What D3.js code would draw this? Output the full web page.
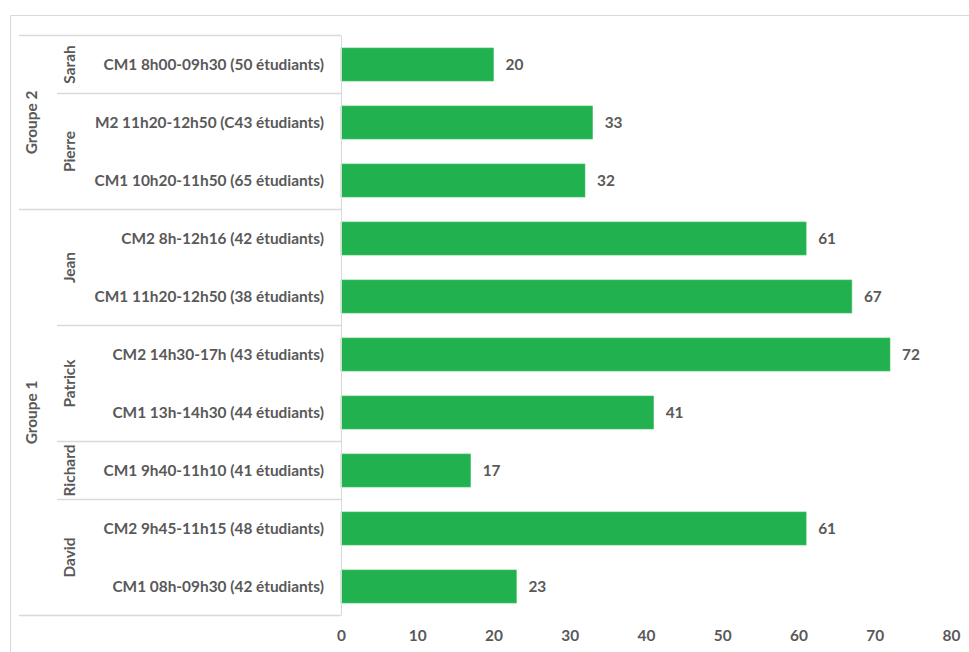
<!DOCTYPE html>
<html><head><meta charset="utf-8">
<script src="https://cdn.jsdelivr.net/npm/d3@7"></script>
<style>body{margin:0;background:#fff}svg{display:block}text{font-family:Lato,"Open Sans",sans-serif;font-weight:bold;fill:#595959}</style>
</head><body>
<script>
const groups = ["Groupe 2","Groupe 2","Groupe 2","Groupe 1","Groupe 1","Groupe 1","Groupe 1","Groupe 1","Groupe 1","Groupe 1"];
const persons = ["Sarah","Pierre","Pierre","Jean","Jean","Patrick","Patrick","Richard","David","David"];
const categories = ["CM1 8h00-09h30 (50 étudiants)","M2 11h20-12h50 (C43 étudiants)","CM1 10h20-11h50 (65 étudiants)","CM2 8h-12h16 (42 étudiants)","CM1 11h20-12h50 (38 étudiants)","CM2 14h30-17h (43 étudiants)","CM1 13h-14h30 (44 étudiants)","CM1 9h40-11h10 (41 étudiants)","CM2 9h45-11h15 (48 étudiants)","CM1 08h-09h30 (42 étudiants)"];
const values = [20,33,32,61,67,72,41,17,61,23];
const ticks = [0,10,20,30,40,50,60,70,80];

(function(){
const W=969,H=652;
const svg=d3.select("body").append("svg").attr("width",W).attr("height",H);
const grid="#d9d9d9";
svg.append("path").attr("d","M10.5,652V15.5H969").attr("fill","none").attr("stroke",grid);

const x=d3.scaleLinear().domain([0,80]).range([341,951]);
const ids=categories.map((c,i)=>i);
const y=d3.scaleBand().domain(ids).range([35.5,615.5]).paddingInner(0.43).paddingOuter(0.215);
const step=y.step();
const y0=35.5, axisX=341;
const fs=15.4;

svg.selectAll("rect.bar").data(values).join("rect").attr("class","bar")
 .attr("x",x(0)).attr("y",(d,i)=>y(i)).attr("width",d=>x(d)-x(0)).attr("height",y.bandwidth())
 .attr("fill","#21b14f").attr("stroke","#4cc56f").attr("stroke-width",0.6);
svg.selectAll("text.val").data(values).join("text").attr("class","val")
 .attr("x",d=>x(d)+12).attr("y",(d,i)=>y(i)+y.bandwidth()/2).attr("dy","0.35em")
 .attr("font-size",fs).text(d=>d);

const g=svg.append("g").attr("stroke",grid).attr("fill","none");
g.append("line").attr("x1",axisX+0.5).attr("x2",axisX+0.5).attr("y1",y0).attr("y2",y0+step*10);
for(let i=0;i<=10;i++){
  const yy=y0+step*i;
  let x1=null;
  if(i===0||i===10||groups[i]!==groups[i-1]) x1=19;
  else if(persons[i]!==persons[i-1]) x1=57;
  if(x1!==null) g.append("line").attr("x1",x1).attr("x2",axisX).attr("y1",yy).attr("y2",yy).attr("stroke-width",1.5);
}
svg.selectAll("text.cat").data(categories).join("text").attr("class","cat")
 .attr("x",324).attr("y",(d,i)=>y0+step*(i+0.5)).attr("dy","0.35em").attr("text-anchor","end")
 .attr("font-size",fs).text(d=>d);
function spans(arr,isP){const r=[];arr.forEach((v,i)=>{if(i>0&&arr[i-1]===v&&(!isP||groups[i-1]===groups[i]))r[r.length-1].n++;else r.push({v,s:i,n:1});});return r;}
spans(persons,true).forEach(s=>{
  const cy=y0+step*(s.s+s.n/2);
  svg.append("text").attr("transform",`translate(70,${cy}) rotate(-90)`).attr("text-anchor","middle").attr("dy","0.35em").attr("font-size",fs).text(s.v);
});
spans(groups,false).forEach(s=>{
  const cy=y0+step*(s.s+s.n/2);
  svg.append("text").attr("transform",`translate(32,${cy}) rotate(-90)`).attr("text-anchor","middle").attr("dy","0.35em").attr("font-size",fs).text(s.v);
});
const ax=svg.append("g").attr("transform","translate(0,636)").call(d3.axisBottom(x).tickValues(ticks).tickSize(0).tickPadding(0));
ax.select(".domain").remove();
ax.selectAll("text").attr("font-size",fs).attr("dy","0.35em").attr("fill","#595959").style("font-family","Lato, 'Open Sans', sans-serif").style("font-weight","bold");
})();
</script>
</body></html>
